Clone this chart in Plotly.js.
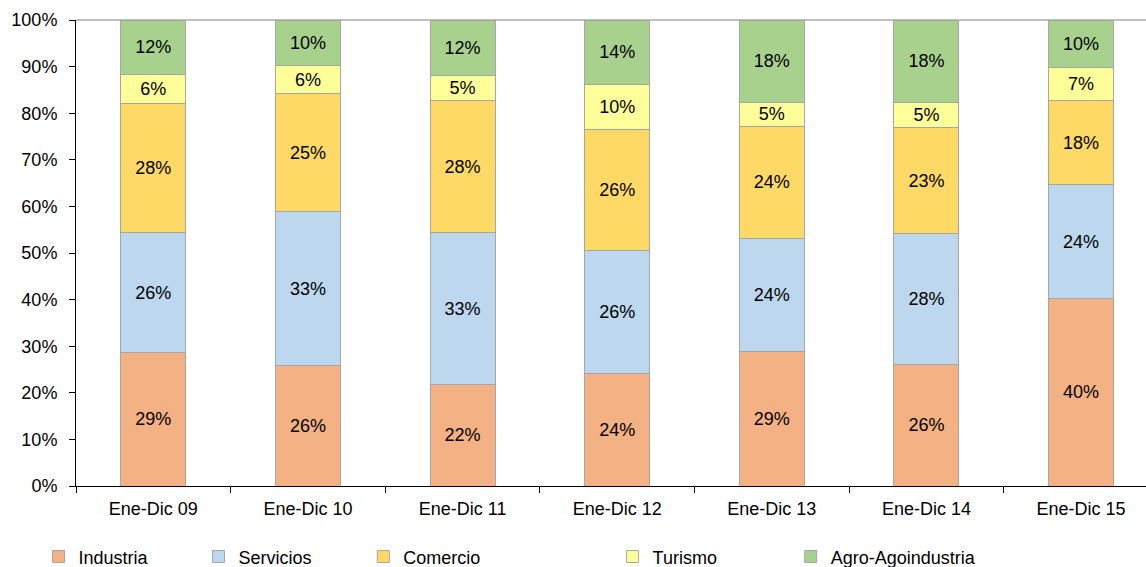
<!DOCTYPE html>
<html>
<head>
<meta charset="utf-8">
<script src="https://cdn.plot.ly/plotly-3.0.1.min.js"></script>
<style>html,body{margin:0;padding:0;background:#fff;}#chart{width:1146px;height:567px;}</style>
</head>
<body>
<div id="chart"></div>
<script>
const categories = ["Ene-Dic 09","Ene-Dic 10","Ene-Dic 11","Ene-Dic 12","Ene-Dic 13","Ene-Dic 14","Ene-Dic 15"];
const industria = [28.6, 25.8, 21.7, 24.2, 28.8, 26.0, 40.3];
const servicios = [25.7, 33.0, 32.6, 26.4, 24.4, 28.1, 24.3];
const comercio  = [27.8, 25.4, 28.4, 25.8, 24.0, 22.9, 18.2];
const turismo   = [6.3, 6.0, 5.3, 9.7, 5.2, 5.4, 7.0];
const agro      = [11.6, 9.8, 12.0, 13.9, 17.6, 17.6, 10.2];

const names  = ["Industria","Servicios","Comercio","Turismo","Agro-Agoindustria"];
const series = [industria, servicios, comercio, turismo, agro];
const colors = ["#F4B183","#BDD7EE","#FFD966","#FFFF99","#A9D18E"];
const legendX = [-0.035, 0.1145, 0.2685, 0.5015, 0.668];

const FONT = "Liberation Sans, Arial, sans-serif";
const traces = series.map((vals, i) => ({
  type: "bar",
  name: names[i],
  x: categories,
  y: vals,
  marker: {color: colors[i], line: {color: "#A6A6A6", width: 1}},
  width: 0.42,
  texttemplate: "%{y:.0f}%",
  textposition: "inside",
  insidetextanchor: "middle",
  constraintext: "none",
  textangle: 0,
  textfont: {family: FONT, size: 18, color: "#000"},
  hoverinfo: "skip",
  legend: i === 0 ? "legend" : "legend" + (i + 1)
}));

const layout = {
  width: 1146, height: 567,
  margin: {l: 76, r: 0, t: 20, b: 81, autoexpand: false},
  barmode: "stack",
  paper_bgcolor: "#fff", plot_bgcolor: "#fff",
  font: {family: FONT, size: 18, color: "#000"},
  xaxis: {
    type: "category",
    range: [-0.5, 6.42],
    showline: true, linecolor: "#000", linewidth: 1,
    ticks: "outside", tickson: "boundaries", ticklen: 6, tickcolor: "#000",
    ticklabelstandoff: 6,
    tickfont: {family: FONT, size: 18, color: "#000"},
    showgrid: false, fixedrange: true, automargin: false
  },
  yaxis: {
    range: [0, 100],
    dtick: 10,
    ticksuffix: "%",
    showline: true, linecolor: "#000", linewidth: 1,
    ticks: "outside", ticklen: 6, tickcolor: "#000",
    ticklabelstandoff: 8,
    tickfont: {family: FONT, size: 18, color: "#000"},
    showgrid: false, zeroline: false, fixedrange: true, automargin: false
  },
  shapes: [{type: "line", xref: "paper", yref: "paper", x0: 0, x1: 1, y0: 1, y1: 1,
            line: {color: "#BFBFBF", width: 2}, layer: "below"}],
  showlegend: true
};
for (let i = 0; i < 5; i++) {
  const key = i === 0 ? "legend" : "legend" + (i + 1);
  layout[key] = {
    orientation: "h", x: legendX[i], xanchor: "left", y: -0.152, yanchor: "middle",
    font: {family: FONT, size: 18, color: "#000"},
    bgcolor: "rgba(0,0,0,0)", itemwidth: 30, tracegroupgap: 0
  };
}

Plotly.newPlot("chart", traces, layout, {displayModeBar: false, staticPlot: true});
</script>
</body>
</html>
